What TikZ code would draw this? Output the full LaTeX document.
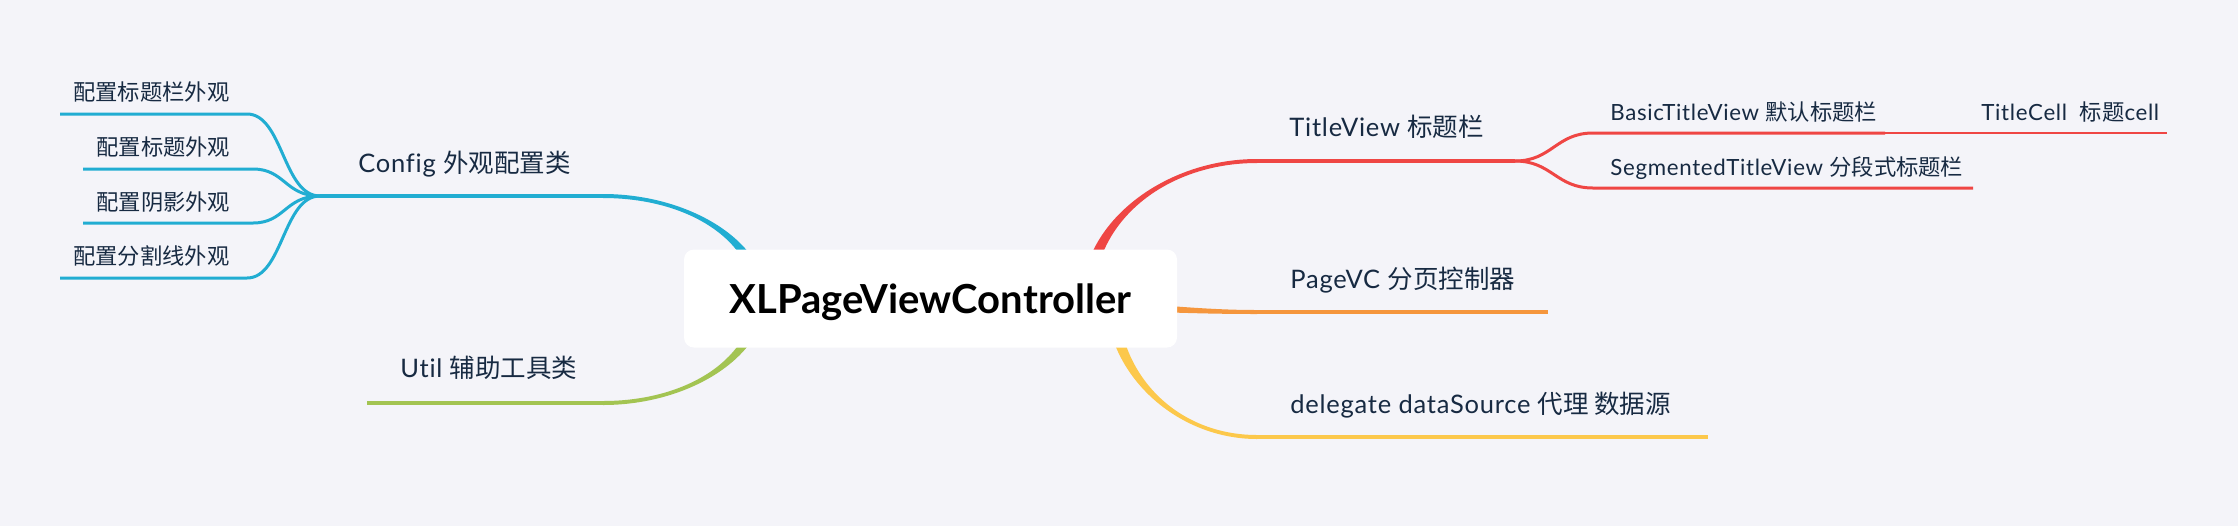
\documentclass[tikz,border=0pt]{standalone}
\usepackage{fontspec}
\setmainfont{Lato}[LetterSpace=3,Ligatures=NoCommon]
\newfontfamily\rootfont{Lato}
\newfontfamily\cjk{Noto Sans CJK SC}
\usetikzlibrary{calc}
\definecolor{bg}{HTML}{F4F4F9}
\definecolor{cblue}{HTML}{21ADD2}
\definecolor{cgreen}{HTML}{A3C452}
\definecolor{cred}{HTML}{EF4644}
\definecolor{corange}{HTML}{F5963D}
\definecolor{cyellow}{HTML}{FCC84B}
\definecolor{ink}{HTML}{172A42}
\newcommand\tapercurve[7]{%
 \fill[#1] ($(#2)+(#6)$) .. controls ($(#3)+(#6)$) and ($(#4)+(#7)$) .. ($(#5)+(#7)$) -- ($(#5)-(#7)$) .. controls ($(#4)-(#7)$) and ($(#3)-(#6)$) .. ($(#2)-(#6)$) -- cycle;}
\begin{document}
\begin{tikzpicture}[x=0.5pt,y=-0.5pt,
  lvl1/.style={anchor=west,inner sep=0pt,text height=9.44pt,text depth=0pt,font=\fontsize{12.75}{14}\selectfont,text=ink},
  lvl2/.style={anchor=west,inner sep=0pt,text height=8.25pt,text depth=0pt,font=\fontsize{11.15}{13}\selectfont,text=ink},
  ul/.style={line width=1.75pt},
  ul2/.style={line width=1.5pt},
  rootbox/.style={fill=white,rounded corners=5pt,minimum width=246.5pt,minimum height=49pt,inner sep=0pt,text height=14.5pt,text depth=0pt,font=\rootfont\fontsize{20}{24}\selectfont\bfseries,text=black}]
\fill[bg] (0,0) rectangle (2238,526);
\useasboundingbox (0,0) rectangle (2238,526);
% branch points
\coordinate (cfgS) at (760,298);
\coordinate (cfgE) at (603,196);
\coordinate (cfgF) at (320,196);
\coordinate (utlS) at (760,298);
\coordinate (utlE) at (603,403);
\coordinate (utlL) at (367,403);
\coordinate (ttlS) at (1088,298);
\coordinate (ttlE) at (1257,161);
\coordinate (ttlF) at (1515,161);
\coordinate (pgS) at (1100,306);
\coordinate (pgE) at (1257,312);
\coordinate (pgL) at (1548,312);
\coordinate (dlS) at (1112,298);
\coordinate (dlE) at (1257,437);
\coordinate (dlL) at (1708,437);
\coordinate (c1R) at (247,114); \coordinate (c1L) at (60,114);
\coordinate (c2R) at (253,169); \coordinate (c2L) at (83,169);
\coordinate (c3R) at (253,223); \coordinate (c3L) at (83,223);
\coordinate (c4R) at (247,278); \coordinate (c4L) at (60,278);
\coordinate (bsL) at (1593,133); \coordinate (bsR) at (1885,133);
\coordinate (sgL) at (1593,188); \coordinate (sgR) at (1973,188);
\coordinate (tcL) at (1968,133); \coordinate (tcR) at (2167,133);
% main tapered branches
\tapercurve{cblue}{cfgS}{760,242}{690,196}{cfgE}{-6,0}{0,2}
\tapercurve{cgreen}{utlS}{760,356}{690,403}{utlE}{6,0}{0,2}
\tapercurve{cred}{ttlS}{1088,222}{1165,161}{ttlE}{-6,0}{0,-2}
\tapercurve{cyellow}{dlS}{1112,375}{1177,437}{dlE}{6,0}{0,-2}
\tapercurve{corange}{pgS}{1160,308}{1200,312}{pgE}{0,-4}{0,-2}
% underlines and sub-branches
\draw[cblue,ul] (cfgE) -- (cfgF);
\draw[cblue,ul2] (cfgF) .. controls (283,196) and (283,114) .. (c1R) -- (c1L);
\draw[cblue,ul2] (cfgF) .. controls (285,196) and (285,169) .. (c2R) -- (c2L);
\draw[cblue,ul2] (cfgF) .. controls (285,196) and (285,223) .. (c3R) -- (c3L);
\draw[cblue,ul2] (cfgF) .. controls (283,196) and (283,278) .. (c4R) -- (c4L);
\draw[cgreen,ul] (utlE) -- (utlL);
\draw[cred,ul] (ttlE) -- (ttlF);
\draw[cred,ul2] (ttlF) .. controls (1552,161) and (1556,133) .. (bsL) -- (bsR);
\draw[cred,ul2] (ttlF) .. controls (1552,161) and (1556,188) .. (sgL) -- (sgR);
\draw[cred,line width=1pt] (bsR) -- (tcL);
\draw[cred,line width=1.25pt] (tcL) -- (tcR);
\draw[corange,ul] (pgE) -- (pgL);
\draw[cyellow,ul] (dlE) -- (dlL);
% nodes
\node[rootbox] (root) at (930.5,298.5) {XLPageViewController};
\node[lvl1] (cfg) at (358,163) {Config {\cjk 外观配置类}};
\node[lvl1] (utl) at (400,368) {Util {\cjk 辅助工具类}};
\node[lvl1] (ttl) at (1289,127) {TitleView {\cjk 标题栏}};
\node[lvl1] (pg) at (1290,279) {PageVC {\cjk 分页控制器}};
\node[lvl1] (dl) at (1290,404) {delegate dataSource {\cjk 代理 数据源}};
\node[lvl2] (c1) at (73,92) {\cjk 配置标题栏外观};
\node[lvl2] (c2) at (96,147) {\cjk 配置标题外观};
\node[lvl2] (c3) at (96,202) {\cjk 配置阴影外观};
\node[lvl2] (c4) at (73,256) {\cjk 配置分割线外观};
\node[lvl2] (bs) at (1610,112) {BasicTitleView {\cjk 默认标题栏}};
\node[lvl2] (sg) at (1610,167) {SegmentedTitleView {\cjk 分段式标题栏}};
\node[lvl2] (tc) at (1981,112) {TitleCell\ \ {\cjk 标题}cell};
\end{tikzpicture}
\end{document}
